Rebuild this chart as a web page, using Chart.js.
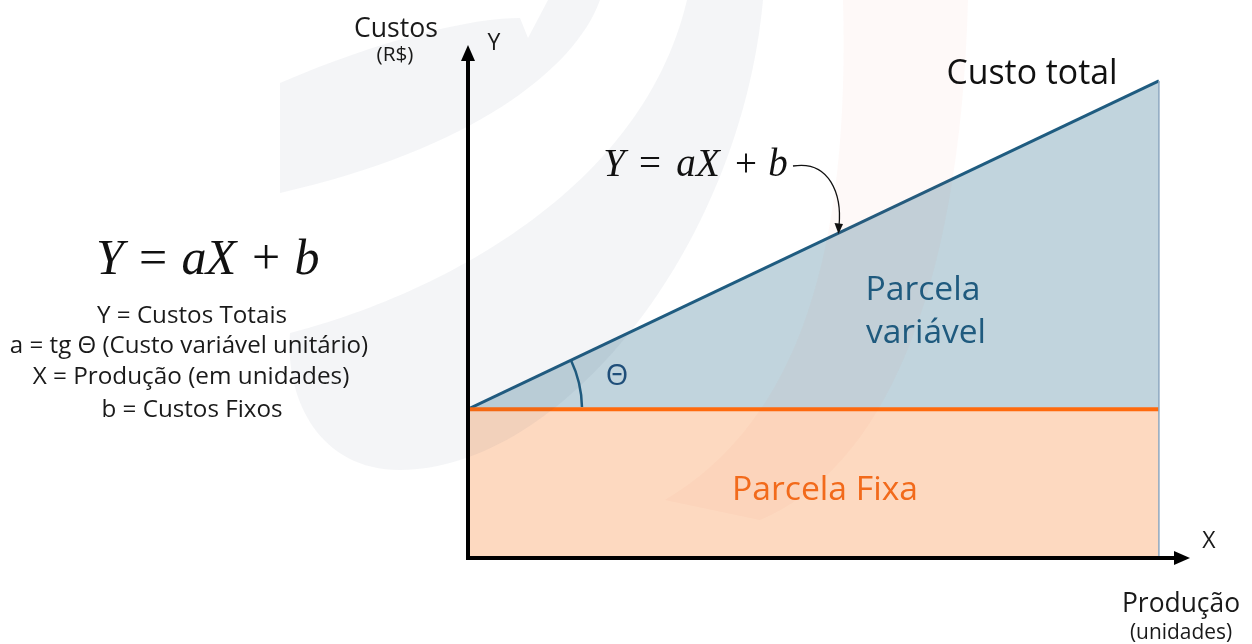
<!DOCTYPE html>
<html lang="pt">
<head>
<meta charset="UTF-8">
<title>Custo total = Parcela fixa + Parcela variável</title>
<script src="https://cdn.jsdelivr.net/npm/chart.js"></script>
<style>
  html, body { margin: 0; padding: 0; background: #fff; }
  #wrap { width: 1252px; height: 644px; position: relative; }
</style>
</head>
<body>
<div id="wrap"><canvas id="custosChart"></canvas></div>
<script>
// dados (valores conceituais)
const producao   = [0, 100];   // X (unidades)
const custoFixo  = [29, 29];   // b
const custoTotal = [29, 93];   // Y = aX + b
const xMax = 104.5;
const yMax = 100;

const FONT = '"Open Sans", "Noto Sans", sans-serif';
const MATH = '"Liberation Serif", "DejaVu Serif", serif';

// textos: [texto, centro x, linha de base, largura alvo, cor]
const textos = [
  ['Custos', 396, 37, 84, '#1a1a1a'],
  ['(R$)', 395, 61, 37, '#1a1a1a'],
  ['Custo total', 1032, 84, 171, '#111'],
  ['Parcela', 923, 300, 115, '#1F5A7E'],
  ['variável', 926, 343, 120, '#1F5A7E'],
  ['Parcela Fixa', 825, 500, 186, '#F26A1B'],
  ['Produção', 1181, 612, 118, '#1a1a1a'],
  ['(unidades)', 1181, 639, 102, '#1a1a1a'],
  ['Y = Custos Totais', 192, 323, 190, '#1a1a1a'],
  ['a = tg Θ (Custo variável unitário)', 189, 353, 358, '#1a1a1a'],
  ['X = Produção (em unidades)', 191, 384, 317, '#1a1a1a'],
  ['b = Custos Fixos', 192, 417, 181, '#1a1a1a']
];

// equação Y = aX + b: símbolos e seus centros
const simbolos = ['Y', '=', 'a', 'X', '+', 'b'];
const italico  = [true, false, true, true, false, true];
const eqEsq = { x: [110, 153, 194, 221, 266, 307], base: 274, size: 50 };
const eqMeio = { x: [614, 650, 686, 708, 746, 778], base: 176, size: 39 };

function fitText(ctx, t) {
  const [txt, cx, y, w, color] = t;
  ctx.font = '40px ' + FONT;
  const size = 40 * w / ctx.measureText(txt).width;
  ctx.font = size.toFixed(1) + 'px ' + FONT;
  ctx.fillStyle = color;
  ctx.textAlign = 'center';
  ctx.textBaseline = 'alphabetic';
  ctx.fillText(txt, cx, y);
}

function equacao(ctx, eq) {
  ctx.fillStyle = '#111';
  ctx.textAlign = 'center';
  simbolos.forEach((s, i) => {
    ctx.font = (italico[i] ? 'italic ' : '') + eq.size + 'px ' + MATH;
    ctx.fillText(s, eq.x[i], eq.base);
  });
}

const fundo = {
  id: 'fundo',
  beforeDraw(chart) {
    const c = chart.ctx;
    c.save();
    c.fillStyle = '#fff';
    c.fillRect(0, 0, chart.width, chart.height);
    c.restore();
  }
};

const desenho = {
  id: 'desenho',
  afterDatasetsDraw(chart) {
    const c = chart.ctx;
    const xs = chart.scales.x, ys = chart.scales.y;
    const x0 = xs.getPixelForValue(0), y0 = ys.getPixelForValue(0);
    const xEnd = xs.getPixelForValue(producao[1]);
    const yFix = ys.getPixelForValue(custoFixo[0]);
    const yTot = ys.getPixelForValue(custoTotal[1]);
    c.save();

    // marca d'água
    c.fillStyle = 'rgba(60,70,115,0.055)';
    c.beginPath();
    c.moveTo(280, 83);
    c.bezierCurveTo(380, 40, 470, 18, 520, 18);
    c.lineTo(528, 38);
    c.lineTo(548, 0);
    c.lineTo(600, 0);
    c.bezierCurveTo(575, 70, 470, 150, 280, 193);
    c.closePath();
    c.fill();
    c.beginPath();
    c.moveTo(687, 0);
    c.lineTo(763, 0);
    c.bezierCurveTo(740, 250, 560, 470, 400, 470);
    c.bezierCurveTo(320, 470, 285, 400, 290, 333);
    c.bezierCurveTo(420, 300, 640, 200, 687, 0);
    c.closePath();
    c.fill();
    c.fillStyle = 'rgba(240,90,60,0.035)';
    c.beginPath();
    c.moveTo(843, 0);
    c.lineTo(968, 0);
    c.bezierCurveTo(960, 300, 880, 470, 760, 520);
    c.lineTo(665, 500);
    c.bezierCurveTo(800, 420, 850, 250, 843, 0);
    c.closePath();
    c.fill();

    // bordas das parcelas
    c.strokeStyle = '#8EA8C0';
    c.lineWidth = 1.5;
    c.beginPath();
    c.moveTo(xEnd, yTot);
    c.lineTo(xEnd, y0 - 2);
    c.stroke();

    // ângulo Θ
    const ang = Math.atan2(yFix - yTot, xEnd - x0);
    c.strokeStyle = '#1F5A7E';
    c.lineWidth = 2.5;
    c.beginPath();
    c.arc(x0, yFix, 114, -ang, -0.02);
    c.stroke();
    c.font = '29px ' + FONT;
    c.fillStyle = '#1F4E79';
    c.textAlign = 'center';
    c.fillText('Θ', 617, 385);

    // eixos com setas
    c.strokeStyle = '#000';
    c.fillStyle = '#000';
    c.lineWidth = 4;
    c.beginPath();
    c.moveTo(x0, y0 + 2);
    c.lineTo(x0, chart.chartArea.top + 12);
    c.moveTo(x0 - 2, y0);
    c.lineTo(chart.chartArea.right - 12, y0);
    c.stroke();
    c.beginPath();
    c.moveTo(x0, chart.chartArea.top);
    c.lineTo(x0 - 7, chart.chartArea.top + 16);
    c.lineTo(x0 + 7, chart.chartArea.top + 16);
    c.closePath();
    c.fill();
    const xr = chart.chartArea.right;
    c.beginPath();
    c.moveTo(xr, y0);
    c.lineTo(xr - 16, y0 - 7);
    c.lineTo(xr - 16, y0 + 7);
    c.closePath();
    c.fill();
    c.font = '23px ' + FONT;
    c.fillStyle = '#1a1a1a';
    c.fillText('Y', 494, 50);
    c.fillText('X', 1209, 548);

    // seta curva da equação
    c.strokeStyle = '#111';
    c.lineWidth = 1.3;
    c.beginPath();
    c.moveTo(793, 166);
    c.bezierCurveTo(830, 160, 842, 195, 839, 226);
    c.stroke();
    c.fillStyle = '#111';
    c.beginPath();
    c.moveTo(838.5, 234);
    c.lineTo(834.5, 223);
    c.lineTo(843, 224);
    c.closePath();
    c.fill();

    equacao(c, eqMeio);
    equacao(c, eqEsq);
    textos.forEach(t => fitText(c, t));
    c.restore();
  }
};

const ctx = document.getElementById('custosChart').getContext('2d');
new Chart(ctx, {
  type: 'line',
  data: {
    datasets: [
      {
        label: 'Parcela Fixa',
        data: producao.map((x, i) => ({ x: x, y: custoFixo[i] })),
        borderColor: '#FF6A0D',
        borderWidth: 4,
        backgroundColor: '#FDD9C0',
        fill: 'origin',
        pointRadius: 0
      },
      {
        label: 'Custo total',
        data: producao.map((x, i) => ({ x: x, y: custoTotal[i] })),
        borderColor: '#1F5C80',
        borderWidth: 3,
        backgroundColor: '#C1D4DD',
        fill: '-1',
        pointRadius: 0
      }
    ]
  },
  options: {
    responsive: true,
    maintainAspectRatio: false,
    animation: false,
    layout: { padding: { left: 468, right: 62, top: 45, bottom: 86 } },
    scales: {
      x: { type: 'linear', min: 0, max: xMax, display: false },
      y: { min: 0, max: yMax, display: false }
    },
    plugins: {
      legend: { display: false },
      tooltip: { enabled: false }
    }
  },
  plugins: [fundo, desenho]
});
</script>
</body>
</html>
